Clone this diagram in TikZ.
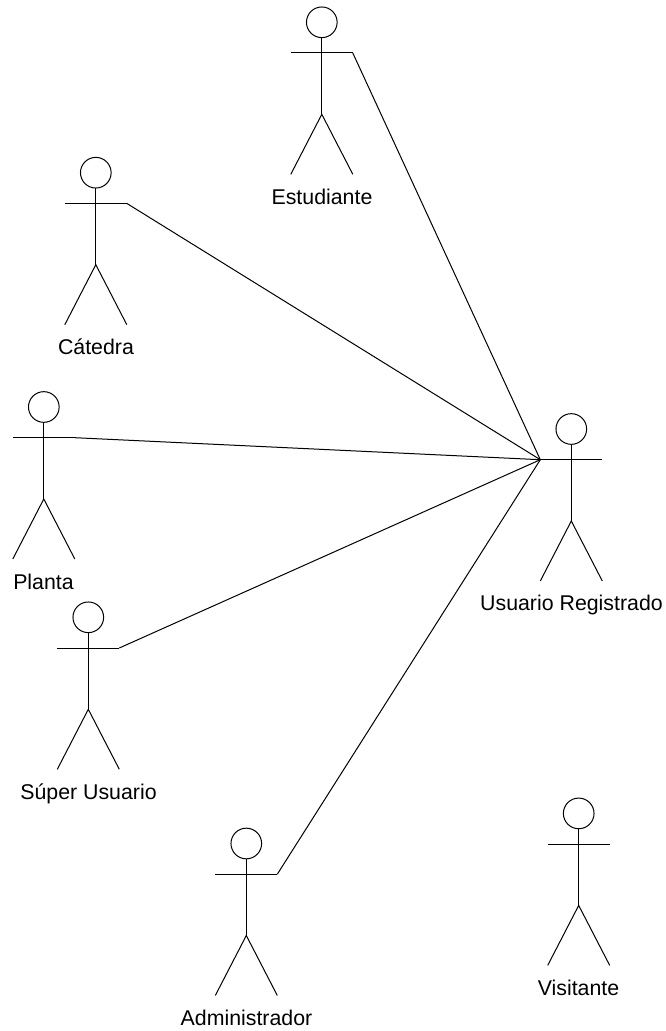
\documentclass[tikz,border=0pt]{standalone}
\usepackage{fontspec}
\setmainfont{Liberation Sans}
\tikzset{
  actorline/.style={draw=black,line width=0.75pt},
  actorhead/.style={circle,draw=black,line width=0.75pt,minimum size=23pt,inner sep=0pt,outer sep=0pt},
  actorlabel/.style={font=\fontsize{16}{18}\selectfont,text=black,inner sep=0pt,anchor=base},
  actor/.pic={
    \node[actorhead] (-head) at (0,0) {};
    \coordinate (-armL) at (-31,30.7);
    \coordinate (-armR) at (31,30.7);
    \coordinate (-hip) at (0,92);
    \coordinate (-footL) at (-31,152);
    \coordinate (-footR) at (31,152);
    \draw[actorline] (-head.south) -- (-hip);
    \draw[actorline] (-armL) -- (-armR);
    \draw[actorline] (-footL) -- (-hip) -- (-footR);
  }
}
\begin{document}
\begin{tikzpicture}[x=0.75pt,y=-0.75pt]
\useasboundingbox (0,0) rectangle (666,1031);
\pic (est) at (321.8,22.3) {actor};
\pic (cat) at (95.8,172.7) {actor};
\pic (pla) at (43.8,407) {actor};
\pic (sup) at (88.3,617.3) {actor};
\pic (adm) at (246.3,843.5) {actor};
\pic (vis) at (578.7,813.4) {actor};
\pic (reg) at (571.3,429) {actor};
\node[actorlabel] (estL) at (322,204) {Estudiante};
\node[actorlabel] (catL) at (96,354.5) {Cátedra};
\node[actorlabel] (plaL) at (43.5,589) {Planta};
\node[actorlabel] (supL) at (88.5,799) {Súper Usuario};
\node[actorlabel] (admL) at (246.5,1025) {Administrador};
\node[actorlabel] (visL) at (578.5,995) {Visitante};
\node[actorlabel] (regL) at (571.5,610) {Usuario Registrado};
\draw[actorline] (est-armR) -- (reg-armL);
\draw[actorline] (cat-armR) -- (reg-armL);
\draw[actorline] (pla-armR) -- (reg-armL);
\draw[actorline] (sup-armR) -- (reg-armL);
\draw[actorline] (adm-armR) -- (reg-armL);
\end{tikzpicture}
\end{document}
